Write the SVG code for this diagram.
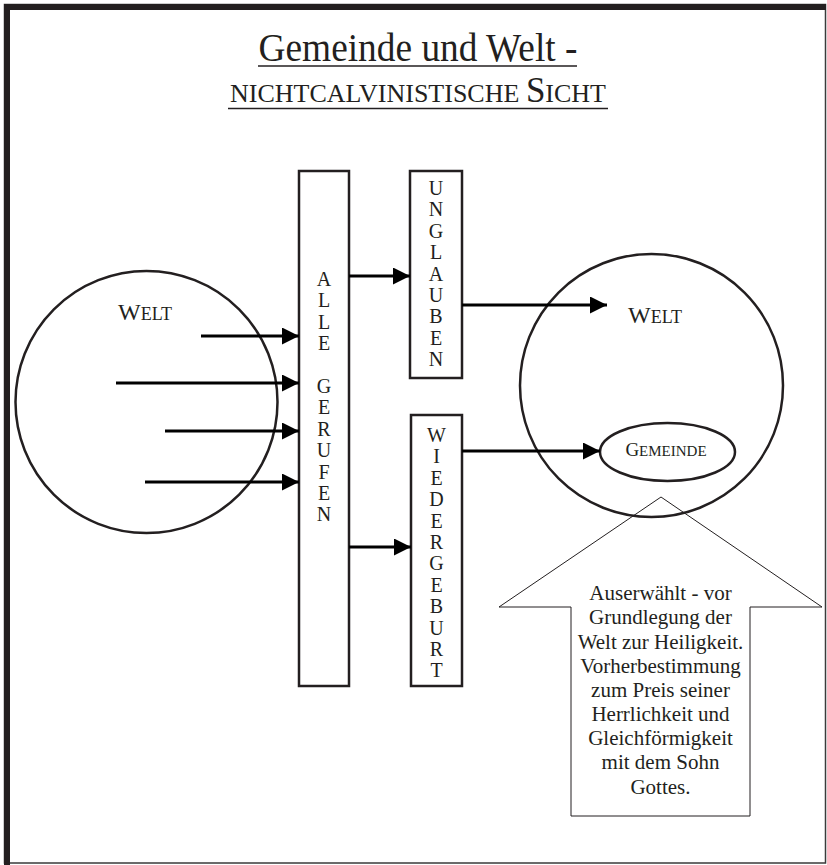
<svg xmlns="http://www.w3.org/2000/svg" width="827" height="865" viewBox="0 0 827 865">
<style>
  text { font-family: "Liberation Serif", "Times New Roman", serif; fill: #231f20; }
  .shape { fill: none; stroke: #231f20; stroke-width: 2.5; }
  .box { fill: #ffffff; stroke: #231f20; stroke-width: 2.5; }
  .conn { fill: none; stroke: #000000; stroke-width: 3; marker-end: url(#ah); }
  .vt { font-size: 20px; text-anchor: middle; }
  .bt { font-size: 21px; text-anchor: middle; }
</style>
<defs>
  <marker id="ah" markerUnits="userSpaceOnUse" markerWidth="17" markerHeight="17" refX="17" refY="8.5" orient="auto" viewBox="0 0 17 17">
    <path d="M0,0 L17,8.5 L0,17 z" fill="#000000"/>
  </marker>
</defs>
<rect x="0" y="0" width="827" height="865" fill="#ffffff"/>
<g id="frame">
  <rect x="4.5" y="4.5" width="821" height="858.5" fill="none" stroke="#3a3a3a" stroke-width="1.5"/>
  <line x1="4" y1="7" x2="826" y2="7" stroke="#231f20" stroke-width="6"/>
  <line x1="7" y1="4" x2="7" y2="865" stroke="#231f20" stroke-width="6"/>
</g>
<g id="title">
  <text x="418" y="61" font-size="40" text-anchor="middle" textLength="319" lengthAdjust="spacingAndGlyphs">Gemeinde und Welt -</text>
  <line x1="258" y1="66" x2="577" y2="66" stroke="#231f20" stroke-width="1.5"/>
  <text x="418" y="102" text-anchor="middle" font-size="26">NICHTCALVINISTISCHE <tspan font-size="35">S</tspan>ICHT</text>
  <line x1="228" y1="108.5" x2="608" y2="108.5" stroke="#231f20" stroke-width="1.5"/>
</g>
<g id="arrow-callout">
  <polygon points="661,497 822,607 750,607 750,816 571,816 571,607 499,607" fill="#ffffff" stroke="#231f20" stroke-width="1"/>
  <text class="bt" x="660.5" y="600">Auserwählt -  vor</text>
  <text class="bt" x="660.5" y="624.3">Grundlegung der</text>
  <text class="bt" x="660.5" y="648.5">Welt zur Heiligkeit.</text>
  <text class="bt" x="660.5" y="672.7">Vorherbestimmung</text>
  <text class="bt" x="660.5" y="696.8">zum Preis seiner</text>
  <text class="bt" x="660.5" y="721">Herrlichkeit und</text>
  <text class="bt" x="660.5" y="745.2">Gleichförmigkeit</text>
  <text class="bt" x="660.5" y="769.3">mit dem Sohn</text>
  <text class="bt" x="660.5" y="793.5">Gottes.</text>
</g>
<g id="welt-left">
  <circle class="shape" cx="146.5" cy="402" r="131"/>
  <text x="118" y="320" font-size="18"><tspan font-size="24">W</tspan>ELT</text>
</g>
<g id="welt-right">
  <circle class="shape" cx="651.5" cy="385.5" r="131.5"/>
  <text x="628" y="323" font-size="18"><tspan font-size="24">W</tspan>ELT</text>
</g>
<g id="gemeinde">
  <ellipse class="shape" cx="667.5" cy="452" rx="67.5" ry="29"/>
  <text x="666" y="456" text-anchor="middle" font-size="15"><tspan font-size="19">G</tspan>EMEINDE</text>
</g>
<g id="alle-gerufen">
  <rect class="box" x="299" y="171" width="50" height="515"/>
  <text class="vt" x="324" y="286">A</text>
  <text class="vt" x="324" y="307.4">L</text>
  <text class="vt" x="324" y="328.8">L</text>
  <text class="vt" x="324" y="350.2">E</text>
  <text class="vt" x="324" y="393">G</text>
  <text class="vt" x="324" y="414.4">E</text>
  <text class="vt" x="324" y="435.8">R</text>
  <text class="vt" x="324" y="457.2">U</text>
  <text class="vt" x="324" y="478.6">F</text>
  <text class="vt" x="324" y="500">E</text>
  <text class="vt" x="324" y="521.4">N</text>
</g>
<g id="unglauben">
  <rect class="box" x="410" y="171" width="52" height="207"/>
  <text class="vt" x="436" y="195">U</text>
  <text class="vt" x="436" y="216.4">N</text>
  <text class="vt" x="436" y="237.8">G</text>
  <text class="vt" x="436" y="259.2">L</text>
  <text class="vt" x="436" y="280.6">A</text>
  <text class="vt" x="436" y="302">U</text>
  <text class="vt" x="436" y="323.4">B</text>
  <text class="vt" x="436" y="344.8">E</text>
  <text class="vt" x="436" y="366.2">N</text>
</g>
<g id="wiedergeburt">
  <rect class="box" x="411" y="415" width="51" height="271"/>
  <text class="vt" x="436.5" y="442">W</text>
  <text class="vt" x="436.5" y="463.4">I</text>
  <text class="vt" x="436.5" y="484.8">E</text>
  <text class="vt" x="436.5" y="506.2">D</text>
  <text class="vt" x="436.5" y="527.6">E</text>
  <text class="vt" x="436.5" y="549">R</text>
  <text class="vt" x="436.5" y="570.4">G</text>
  <text class="vt" x="436.5" y="591.8">E</text>
  <text class="vt" x="436.5" y="613.2">B</text>
  <text class="vt" x="436.5" y="634.6">U</text>
  <text class="vt" x="436.5" y="656">R</text>
  <text class="vt" x="436.5" y="677.4">T</text>
</g>
<g id="connectors">
  <line class="conn" x1="201" y1="336" x2="299" y2="336"/>
  <line class="conn" x1="116" y1="383" x2="299" y2="383"/>
  <line class="conn" x1="165" y1="431" x2="299" y2="431"/>
  <line class="conn" x1="145" y1="482" x2="299" y2="482"/>
  <line class="conn" x1="349" y1="276" x2="410" y2="276"/>
  <line class="conn" x1="349" y1="547" x2="411" y2="547"/>
  <line class="conn" x1="462" y1="305" x2="607" y2="305"/>
  <line class="conn" x1="462" y1="451" x2="600" y2="451"/>
</g>
</svg>
